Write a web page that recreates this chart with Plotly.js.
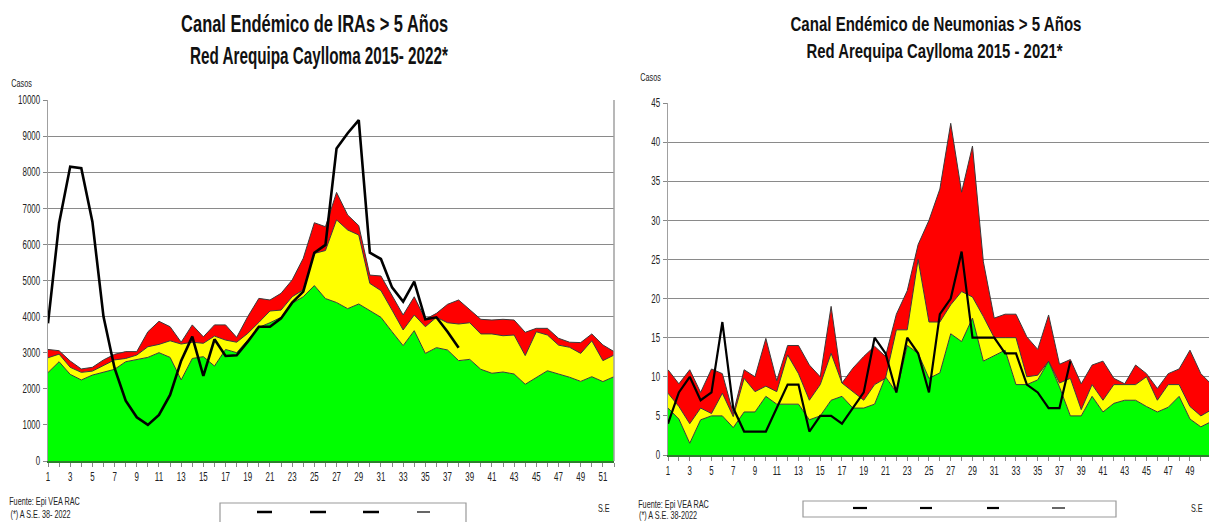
<!DOCTYPE html>
<html>
<head>
<meta charset="utf-8">
<script src="https://cdn.plot.ly/plotly-3.0.1.min.js"></script>
<style>html,body{margin:0;padding:0;background:#fff;}#chart{width:1209px;height:522px;}</style>
</head>
<body>
<div id="chart"></div>
<script>
// ---------- Left chart: IRAs > 5 años (2015-2022) ----------
const weeksIra = Array.from({length: 52}, (_, i) => i + 1);
const iraExito = [2450,2750,2400,2245,2380,2455,2540,2750,2800,2870,3000,2870,2245,2840,2890,2630,3090,3000,3350,3700,3830,3980,4370,4550,4860,4500,4390,4220,4350,4155,3980,3580,3195,3610,2980,3140,3075,2780,2815,2540,2430,2465,2410,2125,2310,2500,2410,2320,2205,2335,2200,2335];
const iraSeguridad = [2860,2960,2595,2455,2490,2640,2800,2840,2935,3165,3230,3330,3240,3290,3260,3460,3350,3290,3535,3840,4155,4180,4550,4740,5750,5830,6680,6400,6260,4920,4720,4180,3630,4045,3720,3980,3830,3795,3830,3520,3520,3470,3490,2920,3580,3490,3210,3150,2980,3330,2780,2935];
const iraAlarma = [3090,3055,2770,2550,2595,2800,2955,3030,3030,3580,3870,3720,3290,3770,3440,3770,3770,3425,4000,4505,4460,4645,5015,5615,6600,6490,7440,6815,6520,5150,5125,4600,4045,4550,3925,4090,4340,4460,4200,3925,3905,3925,3905,3565,3675,3675,3400,3290,3280,3520,3215,3030];
const ira2022 = [3815,6585,8155,8110,6630,4000,2570,1670,1210,1000,1275,1830,2780,3445,2355,3370,2910,2930,3305,3720,3720,3950,4385,4690,5770,5985,8660,9080,9445,5770,5595,4810,4415,4970,3925,3980,3580,3140];

// ---------- Right chart: Neumonías > 5 años (2015-2021) ----------
const weeksNeu = Array.from({length: 51}, (_, i) => i + 1);
const neuExito = [6,4.6,1.5,4.5,5,5,3.5,5.5,5.5,7.5,6.5,6.5,6.5,4.5,5,7,7.5,6,6,6.5,10,8,14,13,9.8,10.5,15.5,14.5,17.5,12,12.7,13.4,9,9,9.6,12,8.7,5,5,7.5,5.5,6.6,7,7,6.2,5.5,6.1,7.5,4.6,3.6,4.3];
const neuSeguridad = [7.9,6.2,4,6,5.3,7.9,4.9,9.8,8.1,8.8,8.1,12.8,10.4,7,9,13,9.2,8.1,7,9,9.8,16,16,25,17,17,19.2,20.9,20.2,17.7,15,15,15,10,10.2,12,9.2,9.8,5.8,9,7,9,9,9,10,7,9,9,6.2,5,5.8];
const neuAlarma = [10.9,9.1,10.9,8,11,10.4,5.3,10.9,10,14.9,9.5,14,14,11.5,10,19,9.2,11.1,12.6,13.9,12.6,18,21,26.9,30,34,42.4,33.6,39.5,24.7,17.5,18,18,15.1,13.5,17.9,11.6,12.2,9.1,11.5,12,9.8,9.1,11.5,10.4,8.5,10.4,11,13.4,10.4,9];
const neu2021 = [4,8,10,7,8,17,6,3,3,3,6,9,9,3,5,5,4,6,8,15,13,8,15,13,8,18,20,26,15,15,15,13,13,9,8,6,6,12];

const GREEN = '#00ff00', YELLOW = '#ffff00', RED = '#ff0000';
const EDGE = '#3a3a3a';
const FONT = "'Liberation Sans', Arial, sans-serif";
const SQUEEZE = 0.66; // the reference uses a narrow typeface

function areas(x, lo, mid, hi, cur, xa, ya, lw) {
  return [
    {x: x, y: lo, xaxis: xa, yaxis: ya, type: 'scatter', mode: 'lines', fill: 'tozeroy', fillcolor: GREEN, line: {color: EDGE, width: 1}},
    {x: x, y: mid, xaxis: xa, yaxis: ya, type: 'scatter', mode: 'lines', fill: 'tonexty', fillcolor: YELLOW, line: {color: EDGE, width: 1}},
    {x: x, y: hi, xaxis: xa, yaxis: ya, type: 'scatter', mode: 'lines', fill: 'tonexty', fillcolor: RED, line: {color: EDGE, width: 1}},
    {x: x.slice(0, cur.length), y: cur, xaxis: xa, yaxis: ya, type: 'scatter', mode: 'lines', line: {color: '#000', width: lw}}
  ];
}

const data = [
  ...areas(weeksIra, iraExito, iraSeguridad, iraAlarma, ira2022, 'x', 'y', 2.6),
  ...areas(weeksNeu, neuExito, neuSeguridad, neuAlarma, neu2021, 'x2', 'y2', 2.2)
];

const tickFont = {family: FONT, size: 12, color: '#222'};
function xAxis(domain, range, anchor) {
  return {
    domain: domain, range: range, anchor: anchor,
    tickmode: 'linear', tick0: 1, dtick: 2,
    ticks: 'outside', ticklen: 4, tickcolor: '#888', tickwidth: 1,
    minor: {dtick: 1, tick0: 1, ticks: 'outside', ticklen: 4, tickcolor: '#888'},
    showgrid: false, zeroline: false,
    showline: true, linecolor: '#2e7d2e', linewidth: 2, mirror: false,
    tickfont: tickFont, fixedrange: true
  };
}
function yAxis(domain, range, dtick, anchor) {
  return {
    domain: domain, range: range, anchor: anchor,
    tickmode: 'linear', tick0: 0, dtick: dtick, tickformat: 'd',
    ticks: 'outside', ticklen: 4, tickcolor: '#888',
    showgrid: true, gridcolor: '#8a8a8a', gridwidth: 1,
    zeroline: false, showline: true, linecolor: '#a0a0a0', linewidth: 1.5,
    tickfont: tickFont, fixedrange: true
  };
}

const titleFontL = {family: FONT, size: 24, color: '#111', weight: 'bold'};
const titleFontR = {family: FONT, size: 21, color: '#111', weight: 'bold'};
const smallFont = {family: FONT, size: 11, color: '#222'};

function note(px, py, text, font) {
  return {xref: 'paper', yref: 'paper', x: px / 1209, y: 1 - py / 522, text: text, showarrow: false,
          font: font, xanchor: 'center', yanchor: 'middle'};
}

// rendered widths (px) of the narrow title lines in the original
const titleWidths = [267, 258, 291, 256];

const layout = {
  width: 1209, height: 522,
  margin: {l: 0, r: 0, t: 0, b: 0},
  paper_bgcolor: '#fff', plot_bgcolor: '#fff',
  showlegend: false,
  xaxis: xAxis([48/1209, 614/1209], [1, 52], 'y'),
  yaxis: yAxis([61/522, 422/522], [0, 10000], 1000, 'x'),
  xaxis2: xAxis([668/1209, 1], [1, 50.75], 'y2'),
  yaxis2: yAxis([67/522, 419/522], [0, 45], 5, 'x2'),
  annotations: [
    note(314, 23, '<b>Canal Endémico de IRAs > 5 Años</b>', titleFontL),
    note(319, 55, '<b>Red Arequipa Caylloma 2015- 2022*</b>', titleFontL),
    note(936, 23, '<b>Canal Endémico de Neumonias > 5 Años</b>', titleFontR),
    note(935, 50, '<b>Red Arequipa Caylloma 2015 - 2021*</b>', titleFontR),
    note(22, 83, 'Casos', smallFont),
    note(651, 77, 'Casos', smallFont),
    note(44, 501, 'Fuente: Epi VEA RAC', smallFont),
    note(40, 514, '(*) A S.E. 38- 2022', smallFont),
    note(673, 504, 'Fuente: Epi VEA RAC', smallFont),
    note(668, 515, '(*) A S.E. 38-2022', smallFont),
    note(604, 508, 'S.E', smallFont),
    note(1197, 508, 'S.E', smallFont)
  ],
  shapes: [
    // legend boxes
    {type: 'rect', xref: 'paper', yref: 'paper', x0: 220/1209, x1: 466/1209, y0: 1 - 523/522, y1: 1 - 503/522, line: {color: '#999', width: 1.2}, fillcolor: 'rgba(0,0,0,0)'},
    {type: 'rect', xref: 'paper', yref: 'paper', x0: 803/1209, x1: 1116/1209, y0: 1 - 517/522, y1: 1 - 501/522, line: {color: '#999', width: 1.2}, fillcolor: 'rgba(0,0,0,0)'},
    // legend keys (left)
    {type: 'line', xref: 'paper', yref: 'paper', x0: 257/1209, x1: 272/1209, y0: 1 - 512/522, y1: 1 - 512/522, line: {color: '#000', width: 2.5}},
    {type: 'line', xref: 'paper', yref: 'paper', x0: 310/1209, x1: 326/1209, y0: 1 - 512/522, y1: 1 - 512/522, line: {color: '#000', width: 2.5}},
    {type: 'line', xref: 'paper', yref: 'paper', x0: 363/1209, x1: 379/1209, y0: 1 - 512/522, y1: 1 - 512/522, line: {color: '#000', width: 2.5}},
    {type: 'line', xref: 'paper', yref: 'paper', x0: 417/1209, x1: 430/1209, y0: 1 - 512/522, y1: 1 - 512/522, line: {color: '#000', width: 1.2}},
    // legend keys (right)
    {type: 'line', xref: 'paper', yref: 'paper', x0: 853/1209, x1: 867/1209, y0: 1 - 508/522, y1: 1 - 508/522, line: {color: '#000', width: 2.2}},
    {type: 'line', xref: 'paper', yref: 'paper', x0: 920/1209, x1: 932/1209, y0: 1 - 508/522, y1: 1 - 508/522, line: {color: '#000', width: 2.2}},
    {type: 'line', xref: 'paper', yref: 'paper', x0: 987/1209, x1: 999/1209, y0: 1 - 508/522, y1: 1 - 508/522, line: {color: '#000', width: 2.2}},
    {type: 'line', xref: 'paper', yref: 'paper', x0: 1052/1209, x1: 1065/1209, y0: 1 - 508/522, y1: 1 - 508/522, line: {color: '#000', width: 1.2}},
    // right border of left plot
    {type: 'line', xref: 'paper', yref: 'paper', x0: 614/1209, x1: 614/1209, y0: 61/522, y1: 422/522, line: {color: '#a0a0a0', width: 1.5}}
  ]
};

Plotly.newPlot('chart', data, layout, {staticPlot: true, displayModeBar: false}).then(function (gd) {
  // emulate the narrow typeface of the original: compress texts horizontally
  gd.querySelectorAll('svg text').forEach(function (t) {
    const len = t.getComputedTextLength();
    if (!(len > 0)) return;
    let target = len * SQUEEZE;
    const ann = t.closest('.annotation');
    if (ann) {
      const idx = parseInt(ann.getAttribute('data-index'), 10);
      if (idx < titleWidths.length) target = titleWidths[idx];
    }
    t.setAttribute('textLength', target.toFixed(2));
    t.setAttribute('lengthAdjust', 'spacingAndGlyphs');
  });
});
</script>
</body>
</html>
